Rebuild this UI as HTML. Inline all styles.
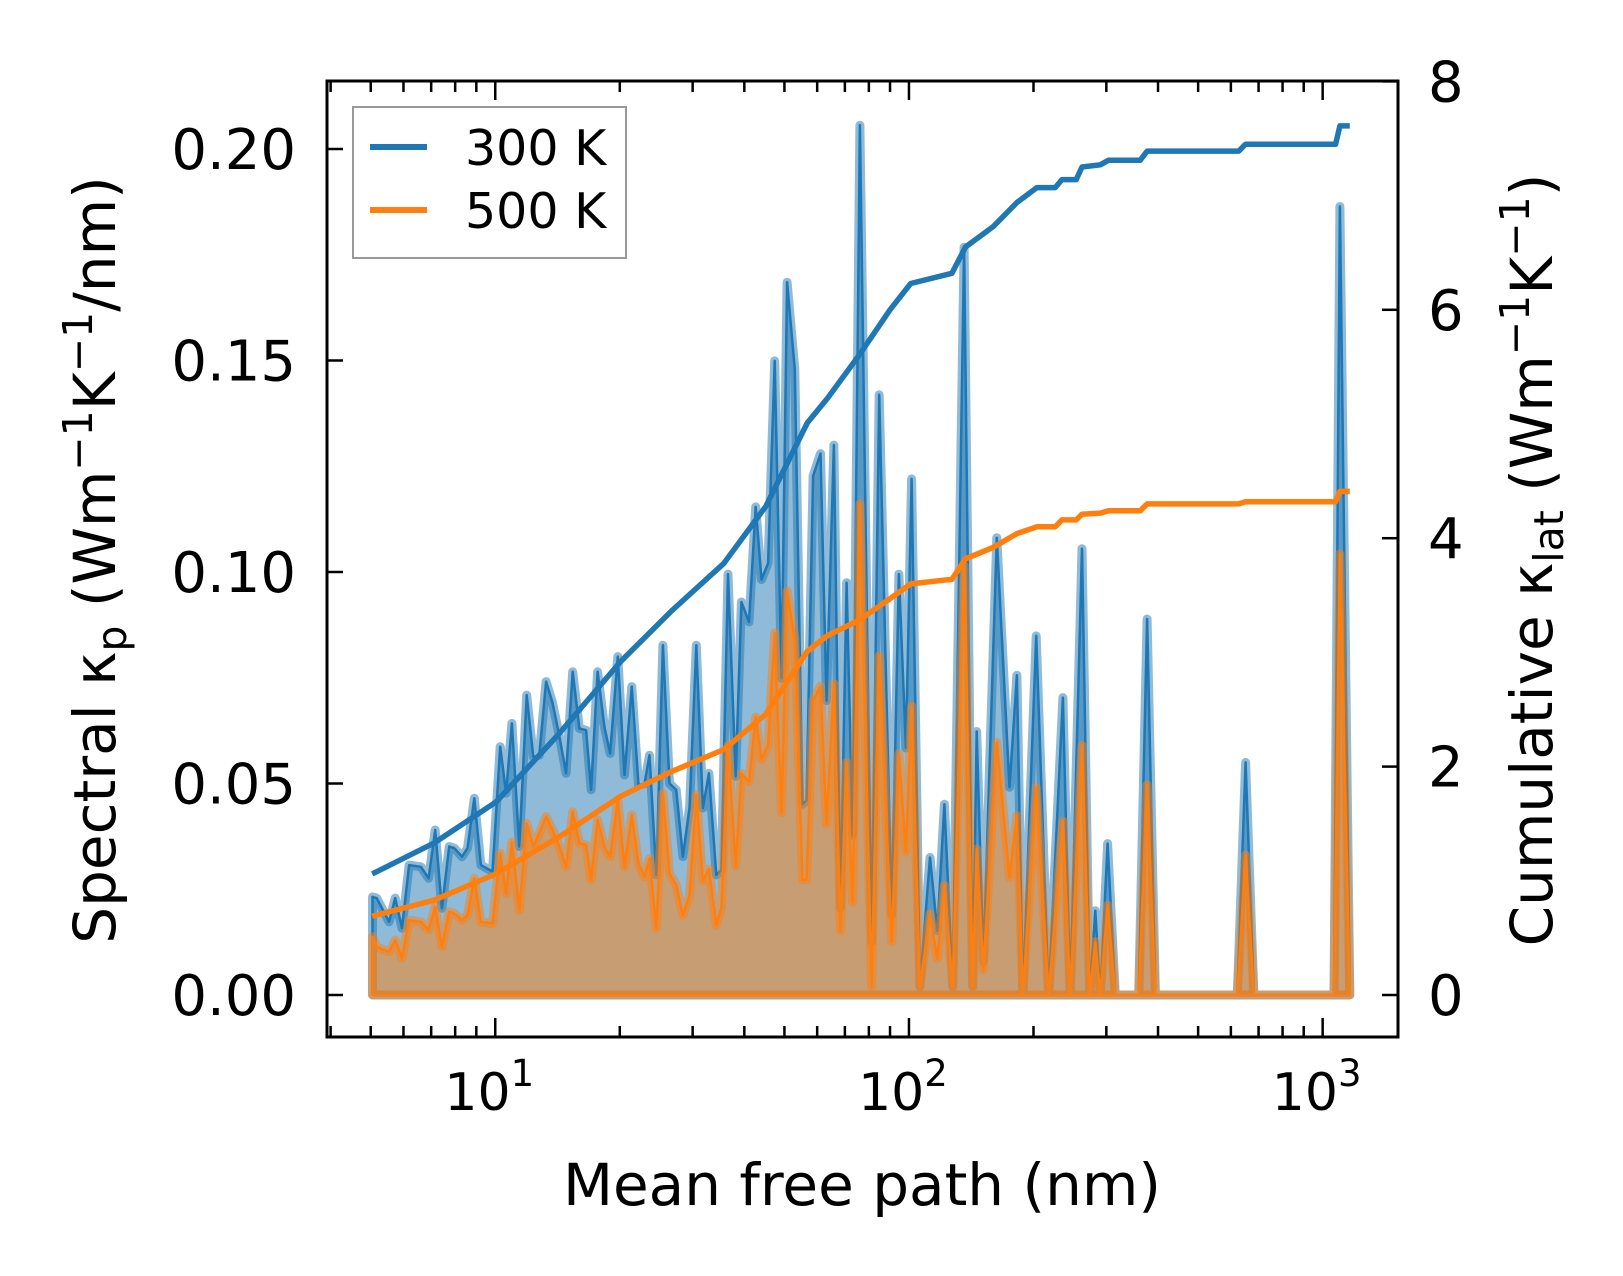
<!DOCTYPE html>
<html><head><meta charset="utf-8"><style>
html,body{margin:0;padding:0;background:#fff;}
svg{display:block;font-family:"DejaVu Sans","Liberation Sans",sans-serif;}
</style></head><body>
<svg id="chart" width="1623" height="1276" viewBox="0 0 1623 1276" xmlns="http://www.w3.org/2000/svg">
<g id="plot"></g>
<g id="axes"></g>
</svg>
<script>
// spectral data (mean free path in nm, spectral kappa)
const mfp = [5.05,5.17,5.54,5.73,5.95,6.19,6.61,6.90,7.16,7.43,7.74,7.96,8.31,8.57,8.90,9.23,9.85,10.28,10.62,10.97,11.43,11.91,12.36,12.78,13.27,13.76,14.29,14.83,15.39,15.97,16.58,17.05,17.68,18.36,18.95,19.78,20.53,21.38,22.19,22.95,23.60,24.50,25.42,26.38,27.38,28.41,29.49,30.62,31.76,32.85,34.23,35.20,36.52,38.12,39.35,41.06,42.62,44.00,45.65,47.38,49.19,50.75,52.97,55.29,56.54,58.66,61.13,63.21,65.84,68.33,70.66,73.06,76.09,81.24,84.76,90.82,94.58,98.33,101.5,106.3,112.4,117.1,121.8,127.6,135.9,142.6,145.8,151.3,163.1,175.0,182.4,188.5,203.0,217.5,235.6,245.4,262.0,273.4,282.2,290.1,302.1,315.3,359.2,376.4,394.2,621.7,651.1,682.0,1065,1101,1163];
const spec300 = [0.0232,0.0229,0.0173,0.0229,0.0158,0.0307,0.0303,0.0276,0.0390,0.0205,0.0351,0.0347,0.0327,0.0347,0.0465,0.0307,0.0292,0.0587,0.0477,0.0642,0.0351,0.0709,0.0563,0.0567,0.0741,0.0690,0.0611,0.0524,0.0764,0.0630,0.0626,0.0485,0.0764,0.0634,0.0571,0.0800,0.0520,0.0729,0.0496,0.0500,0.0567,0.0284,0.0827,0.0500,0.0485,0.0327,0.0445,0.0827,0.0442,0.0524,0.0284,0.0296,0.0995,0.0517,0.0929,0.0882,0.1154,0.0982,0.1021,0.1499,0.0749,0.1685,0.1479,0.0451,0.0460,0.1227,0.1280,0.0696,0.1300,0.0206,0.0975,0.0378,0.2056,0.0126,0.1419,0.0192,0.0995,0.0584,0.1220,0.002,0.0325,0.0152,0.0451,0.002,0.1768,0.002,0.0623,0.008,0.1081,0.0491,0.0756,0,0.0849,0,0.0703,0,0.1055,0,0.0199,0,0.0358,0,0,0.0889,0,0,0.0550,0,0,0.1864,0];
const spec500 = [0.0138,0.0114,0.0102,0.0130,0.0087,0.0177,0.0173,0.0154,0.0209,0.0114,0.0197,0.0193,0.0177,0.0189,0.0276,0.0173,0.0169,0.0335,0.0240,0.0362,0.0201,0.0406,0.0351,0.0382,0.0422,0.0390,0.0351,0.0303,0.0433,0.0359,0.0355,0.0272,0.0414,0.0351,0.0327,0.0461,0.0303,0.0426,0.0311,0.0280,0.0323,0.0158,0.0477,0.0288,0.0260,0.0189,0.0236,0.0473,0.0270,0.0298,0.0165,0.0206,0.0590,0.0305,0.0524,0.0504,0.0657,0.0557,0.0590,0.0856,0.0431,0.0955,0.0842,0.0272,0.0272,0.0696,0.0730,0.0404,0.0736,0.0152,0.0550,0.0219,0.1161,0.002,0.0802,0.0126,0.0570,0.0338,0.0683,0.002,0.0192,0.0086,0.0259,0.002,0.1015,0.002,0.0345,0.006,0.0597,0.0278,0.0424,0,0.0491,0,0.0411,0,0.0590,0,0.0126,0,0.0212,0,0,0.0497,0,0,0.0331,0,0,0.1043,0];
// cumulative data
const cumMfp = [5.04,7.11,10.04,14.2,20.1,26.8,35.7,45.1,56.8,63.7,75.7,90.0,101,127,137,160,182.4,203.8,225.7,234.3,253.7,262.0,290.1,303.8,362.5,376.4,627.1,651.1,1075,1101,1163];
const cum300 = [1.06,1.33,1.69,2.28,2.92,3.37,3.78,4.28,5.01,5.23,5.60,6.00,6.23,6.32,6.55,6.73,6.94,7.07,7.07,7.14,7.14,7.25,7.27,7.31,7.31,7.39,7.39,7.45,7.45,7.61,7.61];
const cum500 = [0.69,0.83,1.06,1.38,1.74,1.96,2.15,2.46,3.01,3.15,3.28,3.47,3.60,3.64,3.82,3.92,4.04,4.10,4.10,4.16,4.16,4.21,4.22,4.24,4.24,4.30,4.30,4.32,4.32,4.41,4.41];
const yTicksLeft = [0,0.05,0.10,0.15,0.20];
const yTickLabelsLeft = ["0.00","0.05","0.10","0.15","0.20"];
const yTicksRight = [0,2,4,6,8];
const xMajorExp = [1,2,3];

const NS="http://www.w3.org/2000/svg";
const L=327,R=1398,T=81,B=1037;
const xL=Math.log10(3.92), xR=Math.log10(1521);
function X(v){return L+(Math.log10(v)-xL)/(xR-xL)*(R-L);}
function Y1(v){return 995-v*4230;}
function Y2(v){return 995-v*114.2;}
function el(tag,attrs,parent){const e=document.createElementNS(NS,tag);for(const k in attrs)e.setAttribute(k,attrs[k]);parent.appendChild(e);return e;}
const plot=document.getElementById('plot'), axes=document.getElementById('axes');
const cp=el('clipPath',{id:'clip'},plot);el('rect',{x:L,y:T,width:R-L,height:B-T},cp);
const g=el('g',{'clip-path':'url(#clip)'},plot);

function specPath(vals){let d='';vals.forEach((v,i)=>{d+=(i?'L':'M')+X(mfp[i]).toFixed(1)+','+Y1(v).toFixed(1);});return d;}
function fillPath(vals){return specPath(vals)+'L'+X(mfp[mfp.length-1]).toFixed(1)+','+Y1(0)+'L'+X(mfp[0]).toFixed(1)+','+Y1(0)+'Z';}
function drawSpec(vals,color,name){
  const f=el('path',{d:fillPath(vals),fill:color,'fill-opacity':0.5,stroke:color,'stroke-opacity':0.5,'stroke-width':9,'stroke-linejoin':'round'},g);
  
  
  const l=el('path',{d:fillPath(vals),fill:'none',stroke:color,'stroke-width':2.5,'stroke-linejoin':'round'},g);
  
  
}
drawSpec(spec300,'#1f77b4','spectral-300k');
drawSpec(spec500,'#ff7f0e','spectral-500k');
function drawCum(vals,color,name){
  let d='';vals.forEach((v,i)=>{d+=(i?'L':'M')+X(cumMfp[i]).toFixed(1)+','+Y2(v).toFixed(1);});
  const p=el('path',{d:d,fill:'none',stroke:color,'stroke-width':5.5,'stroke-linejoin':'round'},g);
  
  
}
drawCum(cum300,'#1f77b4','cumulative-300k');
drawCum(cum500,'#ff7f0e','cumulative-500k');

// spines
const sp=el('rect',{x:L,y:T,width:R-L,height:B-T,fill:'none',stroke:'#000','stroke-width':3},axes);


// x ticks
for(let e=0;e<=3;e++){for(let m=1;m<10;m++){const v=m*Math.pow(10,e);const x=X(v);if(x<L||x>R)continue;const len=m===1?19:11;
  el('line',{x1:x,y1:B,x2:x,y2:B-len,stroke:'#000','stroke-width':2.5},axes);
  el('line',{x1:x,y1:T,x2:x,y2:T+len,stroke:'#000','stroke-width':2.5},axes);}}
xMajorExp.forEach(e=>{const t=el('text',{x:X(Math.pow(10,e))-6,y:1110,'font-size':52,'text-anchor':'middle'},axes);
  
  
  t.textContent='10';const s=el('tspan',{dy:-24,'font-size':37},t);s.textContent=String(e);});
yTicksLeft.forEach((v,i)=>{const y=Y1(v);el('line',{x1:L,y1:y,x2:L+16,y2:y,stroke:'#000','stroke-width':2.5},axes);
  const t=el('text',{x:296,y:y+20,'font-size':56,'text-anchor':'end'},axes);
  
  
  t.textContent=yTickLabelsLeft[i];});
yTicksRight.forEach(v=>{const y=Y2(v);el('line',{x1:R,y1:y,x2:R-16,y2:y,stroke:'#000','stroke-width':2.5},axes);
  const t=el('text',{x:1428,y:y+20,'font-size':56,'text-anchor':'start'},axes);
  
  
  t.textContent=String(v);});
</script>
<svg style="position:absolute;left:0;top:0" width="1623" height="1276" xmlns="http://www.w3.org/2000/svg" font-family="DejaVu Sans, Liberation Sans, sans-serif">
<text x="862" y="1205" font-size="58" text-anchor="middle">Mean free path (nm)</text>
<text transform="translate(115,560) rotate(-90)" font-size="58" text-anchor="middle">Spectral κ<tspan font-size="41" dy="11">p</tspan><tspan dy="-11"> (Wm</tspan><tspan font-size="41" dy="-23">−1</tspan><tspan dy="23">K</tspan><tspan font-size="41" dy="-23">−1</tspan><tspan dy="23">/nm)</tspan></text>
<text transform="translate(1552,560) rotate(-90)" font-size="58" text-anchor="middle">Cumulative κ<tspan font-size="41" dy="11">lat</tspan><tspan dy="-11"> (Wm</tspan><tspan font-size="41" dy="-23">−1</tspan><tspan dy="23">K</tspan><tspan font-size="41" dy="-23">−1</tspan><tspan dy="23">)</tspan></text>
<g>
<rect x="353" y="107" width="273" height="151" fill="#fff" fill-opacity="0.8" stroke="#999" stroke-width="2"/>
<line x1="370" y1="147" x2="427" y2="147" stroke="#1f77b4" stroke-width="6"/>
<text x="465" y="165" font-size="49">300 K</text>
<line x1="370" y1="210" x2="427" y2="210" stroke="#ff7f0e" stroke-width="6"/>
<text x="465" y="228" font-size="49">500 K</text>
</g>
</svg>
</body></html>
